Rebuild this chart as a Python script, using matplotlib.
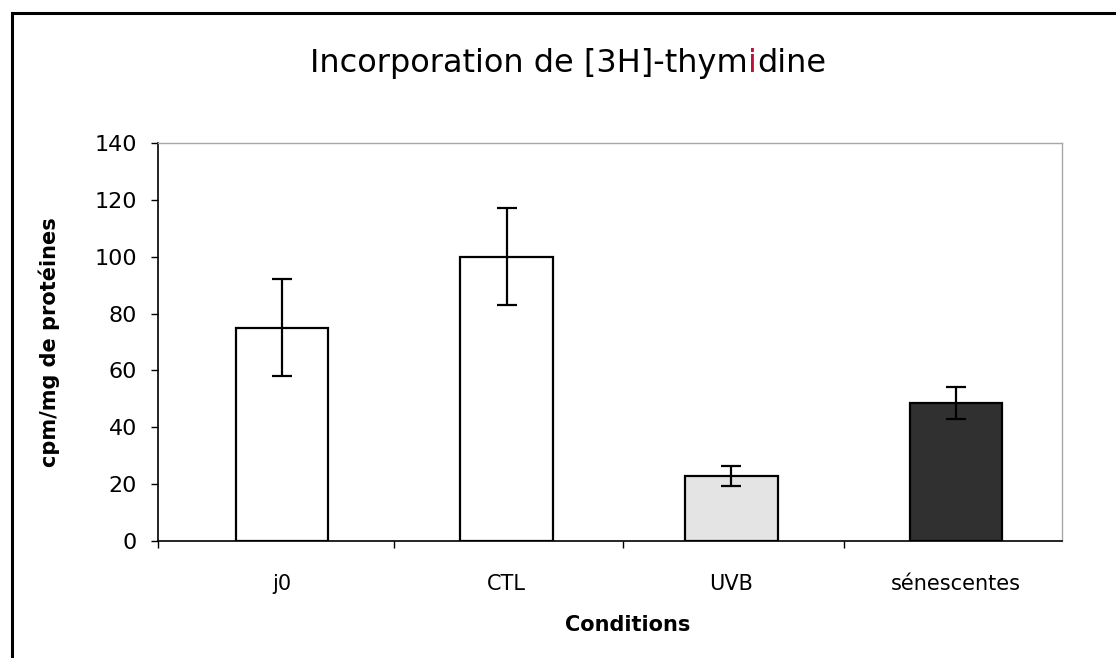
import matplotlib
matplotlib.use("Agg")
import matplotlib.pyplot as plt
from matplotlib.patches import Rectangle
import numpy as np

# ----------------------------------------------------------------------
#  Data
# ----------------------------------------------------------------------
conditions = ["j0", "CTL", "UVB", "sénescentes"]
values = [75, 100, 23, 48.5]
errors = [17, 17, 3.5, 5.5]
bar_colors = ["white", "white", "#e4e4e4", "#303030"]

plt.rcParams["font.family"] = ["DejaVu Sans"]

fig = plt.figure(figsize=(11.16, 6.58), dpi=100)
fig.patch.set_facecolor("white")

# outer chart frame (cut at right and bottom in the reference)
fig.add_artist(Rectangle((0.0112, -0.1), 1.2, 1.1 - 0.0205,
                         transform=fig.transFigure, fill=False,
                         edgecolor="black", linewidth=2.2))

ax = fig.add_axes([0.1416, 0.1778, 0.81, 0.605])
x = np.arange(len(conditions))
ax.bar(x, values, width=0.41, color=bar_colors, edgecolor="black",
       linewidth=1.6, zorder=2)
ax.errorbar(x, values, yerr=errors, fmt="none", ecolor="black",
            elinewidth=1.6, capsize=7, capthick=1.6, zorder=3)

ax.set_xlim(-0.55, 3.47)
ax.set_ylim(0, 140)
ax.set_yticks(range(0, 141, 20))
ax.set_xticks(x)
ax.set_xticklabels(conditions)
ax.set_xticks([-0.55, 0.5, 1.52, 2.5], minor=True)
ax.tick_params(axis="x", which="major", length=0, pad=24, labelsize=15)
ax.tick_params(axis="x", which="minor", length=5, width=1, direction="out")
ax.tick_params(axis="y", length=5, width=1, direction="out", pad=10,
               labelsize=16)

for side in ["left", "bottom"]:
    ax.spines[side].set_color("black")
    ax.spines[side].set_linewidth(1.2)
for side in ["top", "right"]:
    ax.spines[side].set_color("#a8a8a8")
    ax.spines[side].set_linewidth(1.0)

ax.set_ylabel("cpm/mg de protéines", fontsize=15, fontweight="bold")
ax.yaxis.set_label_coords(-0.108, 0.5)
ax.set_xlabel("Conditions", fontsize=15, fontweight="bold")
ax.xaxis.set_label_coords(0.52, -0.185)

# title, with the red "i" of the original
title_parts = [("Incorporation de [3H]-thym", "black"),
               ("i", "#c0103a"),
               ("dine", "black")]
title_size = 23
title_y = 1 - 60 / 658
fig.canvas.draw()
renderer = fig.canvas.get_renderer()
widths = []
for part, _ in title_parts:
    t = fig.text(0, 0, part, fontsize=title_size)
    widths.append(t.get_window_extent(renderer).width / fig.bbox.width)
    t.remove()
xpos = 0.509 - sum(widths) / 2
for (part, col), w in zip(title_parts, widths):
    fig.text(xpos, title_y, part, fontsize=title_size, color=col,
             ha="left", va="center_baseline")
    xpos += w

fig.savefig("out.png", dpi=100)
